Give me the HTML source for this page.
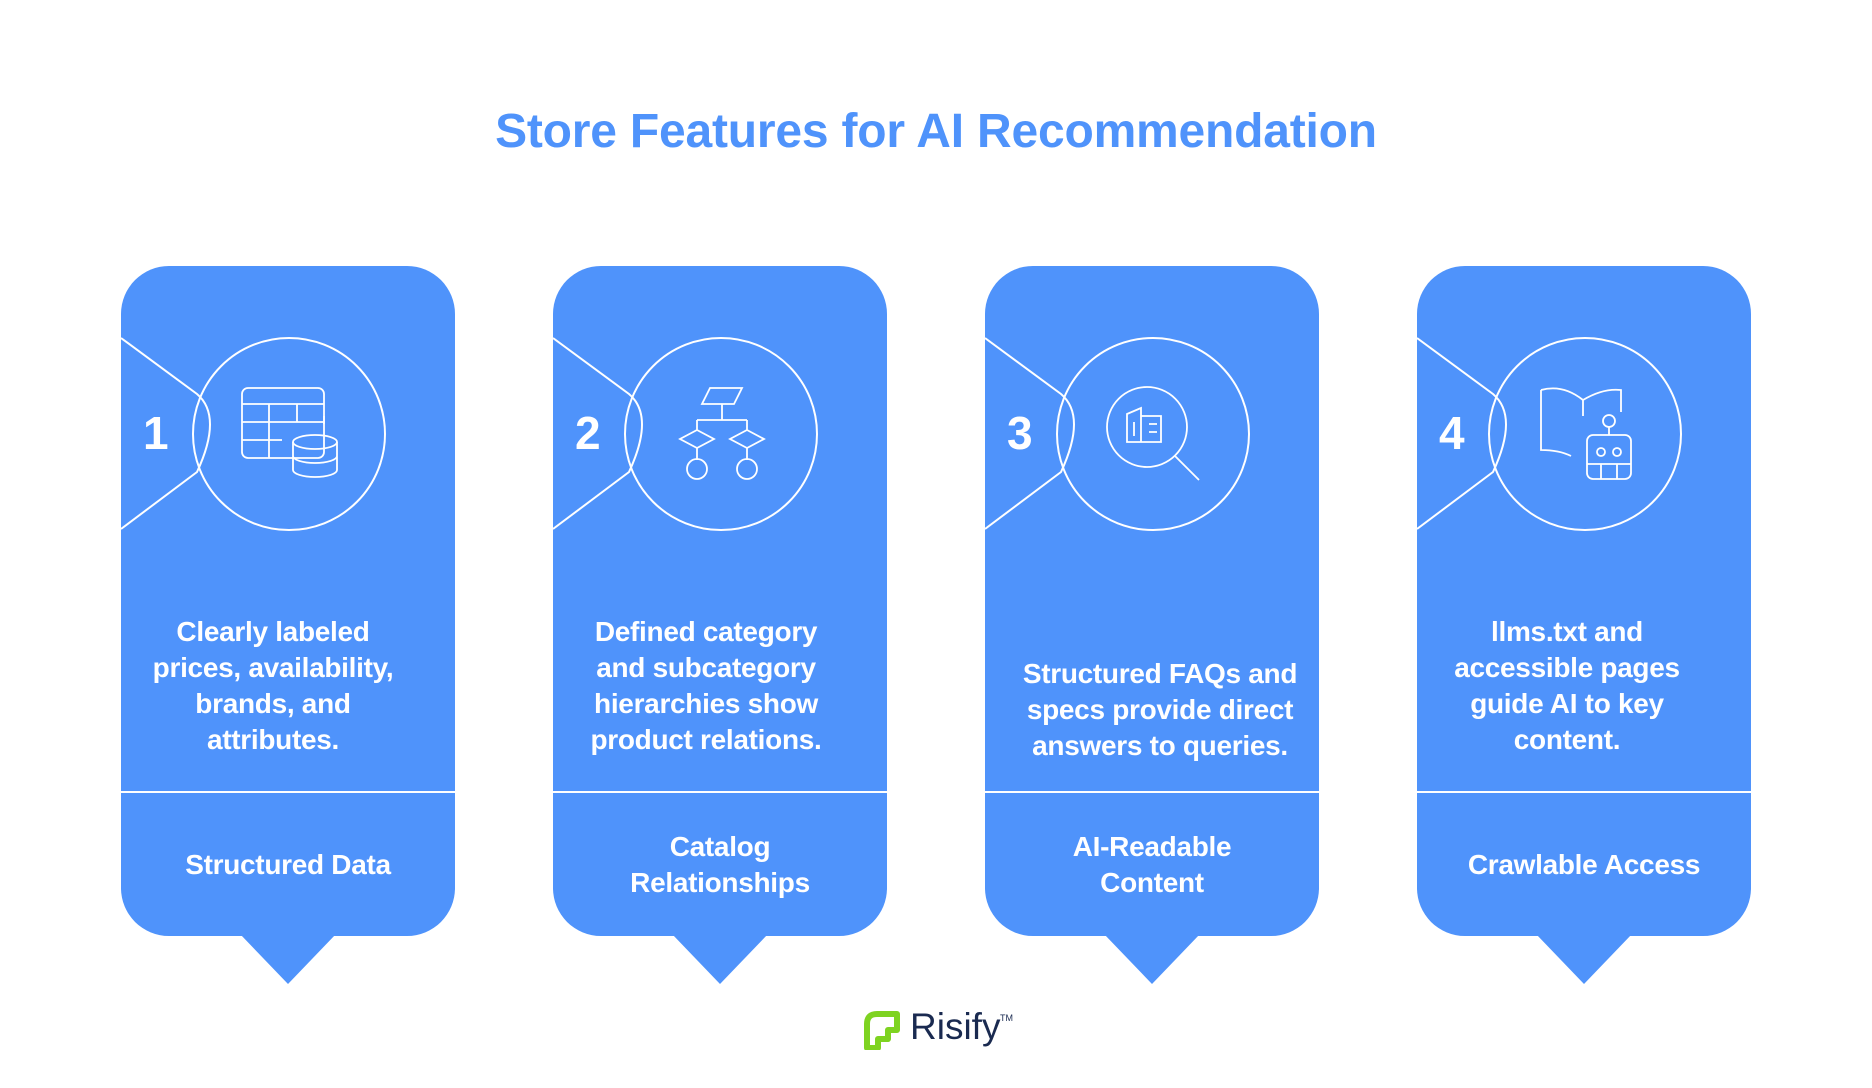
<!DOCTYPE html>
<html><head><meta charset="utf-8"><style>
body{margin:0;width:1872px;height:1088px;background:#fff;font-family:"Liberation Sans",sans-serif;position:relative;overflow:hidden}
.t{position:absolute;left:0;width:1872px;top:104px;text-align:center;font-size:48px;font-weight:bold;color:#4f93fb;letter-spacing:-0.2px}
.card{position:absolute;top:266px;width:334px;height:670px;background:#4f93fb;border-radius:48px}
.div{position:absolute;left:0;right:0;top:525px;height:2px;background:#fff}
.ptr{position:absolute;left:119px;top:668px;width:0;height:0;border-left:48px solid transparent;border-right:48px solid transparent;border-top:50px solid #4f93fb}
.body{position:absolute;width:270px;color:#fff;font-weight:bold;font-size:28px;line-height:36px;text-align:center;letter-spacing:-0.3px}
.lab{position:absolute;left:0;width:334px;top:527px;height:143px;display:flex;align-items:center;justify-content:center;color:#fff;font-weight:bold;font-size:28px;line-height:36px;text-align:center;letter-spacing:-0.3px}
svg.ic{position:absolute;left:0;top:0}
.num{position:absolute;left:22px;top:140px;color:#fff;font-weight:bold;font-size:46px}
</style></head><body>
<div class="t">Store Features for AI Recommendation</div>

<div class="card" style="left:121px">
<svg class="ic" width="334" height="300"><g fill="none" stroke="#fff" stroke-width="2">
<circle cx="168" cy="168" r="96"/><path d="M0 72 L76 128 Q102 150 76 206 L0 263"/>
<g stroke-width="1.8"><rect x="121" y="122" width="82" height="70" rx="6"/><path d="M121 138h82M121 156h82M121 174h40M148 138v54M176 138v18M203 150v8"/>
<ellipse cx="194" cy="176" rx="22" ry="7"/><path d="M172 176v28a22 7 0 0 0 44 0v-28M172 190a22 7 0 0 0 44 0"/></g></g></svg>
<div class="num">1</div>
<div class="body" style="top:348px;left:17px">Clearly labeled prices, availability, brands, and attributes.</div>
<div class="div"></div><div class="lab">Structured Data</div><div class="ptr"></div></div>

<div class="card" style="left:553px">
<svg class="ic" width="334" height="300"><g fill="none" stroke="#fff" stroke-width="2">
<circle cx="168" cy="168" r="96"/><path d="M0 72 L76 128 Q102 150 76 206 L0 263"/>
<g stroke-width="1.8"><path d="M157 122h32l-8 16h-32z"/><path d="M169 138v16M144 154h50M144 154v10M194 154v10"/>
<path d="M144 164l17 9-17 9-17-9z"/><path d="M194 164l17 9-17 9-17-9z"/><path d="M144 182v12M194 182v12"/>
<circle cx="144" cy="203" r="10"/><circle cx="194" cy="203" r="10"/></g></g></svg>
<div class="num">2</div>
<div class="body" style="top:348px;left:18px">Defined category and subcategory hierarchies show product relations.</div>
<div class="div"></div><div class="lab">Catalog<br>Relationships</div><div class="ptr"></div></div>

<div class="card" style="left:985px">
<svg class="ic" width="334" height="300"><g fill="none" stroke="#fff" stroke-width="2">
<circle cx="168" cy="168" r="96"/><path d="M0 72 L76 128 Q102 150 76 206 L0 263"/>
<g stroke-width="1.8"><circle cx="162" cy="161" r="40"/><path d="M190 190l24 24"/>
<path d="M142 148l14-6v34h-14zM156 150h20v26h-20zM164 158h8M164 166h8M149 156v14"/></g></g></svg>
<div class="num">3</div>
<div class="body" style="top:390px;left:27px;width:296px">Structured FAQs and specs provide direct answers to queries.</div>
<div class="div"></div><div class="lab">AI-Readable<br>Content</div><div class="ptr"></div></div>

<div class="card" style="left:1417px">
<svg class="ic" width="334" height="300"><g fill="none" stroke="#fff" stroke-width="2">
<circle cx="168" cy="168" r="96"/><path d="M0 72 L76 128 Q102 150 76 206 L0 263"/>
<g stroke-width="1.8"><path d="M124 124q22-6 42 10v16M124 124v60q18 0 30 6M166 134q20-12 38-10v22"/>
<circle cx="192" cy="155" r="6"/><path d="M192 161v8"/><rect x="170" y="169" width="44" height="44" rx="6"/>
<circle cx="184" cy="186" r="4"/><circle cx="200" cy="186" r="4"/><path d="M170 198h44M184 198v15M200 198v15"/></g></g></svg>
<div class="num">4</div>
<div class="body" style="top:348px;left:15px">llms.txt and accessible pages guide AI to key content.</div>
<div class="div"></div><div class="lab">Crawlable Access</div><div class="ptr"></div></div>

<svg style="position:absolute;left:864px;top:1010px" width="38" height="40"><path d="M3 38V14Q3 4 13 4H33V20H24V29H14V38Z" fill="none" stroke="#7ed321" stroke-width="6" stroke-linejoin="round"/></svg>
<div style="position:absolute;left:910px;top:1006px;font-size:37px;color:#1a2a50">Risify</div>
<div style="position:absolute;left:1000px;top:1013px;font-size:9px;color:#1a2a50">TM</div>
</body></html>
